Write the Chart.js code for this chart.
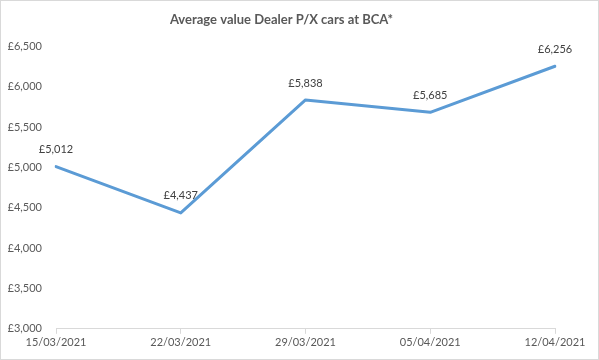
<!DOCTYPE html>
<html><head><meta charset="utf-8">
<script src="https://cdn.jsdelivr.net/npm/chart.js@4"></script>
<style>html,body{margin:0;padding:0;background:#fff}#wrap{width:599px;height:360px;position:relative}</style>
</head><body><div id="wrap"><canvas id="c" width="599" height="360"></canvas></div>
<script>
const categories = ['15/03/2021','22/03/2021','29/03/2021','05/04/2021','12/04/2021'];
const values = [5012, 4437, 5838, 5685, 6256];
const yTicks = [3000, 3500, 4000, 4500, 5000, 5500, 6000, 6500];
const titleText = 'Average value Dealer P/X cars at BCA*';
const FONT = 'Lato, "Open Sans", sans-serif';
const fmt = v => '£' + v.toLocaleString('en-GB');

const borderPlugin = {
  id: 'frame',
  beforeDraw(chart) {
    const ctx = chart.ctx;
    ctx.save();
    ctx.fillStyle = '#fff';
    ctx.fillRect(0,0,chart.width,chart.height);
    ctx.strokeStyle = '#d9d9d9';
    ctx.lineWidth = 1;
    ctx.strokeRect(0.5,0.5,chart.width-1,chart.height-1);
    ctx.restore();
  }
};
const labelPlugin = {
  id: 'dlabels',
  afterDatasetsDraw(chart) {
    const ctx = chart.ctx;
    const meta = chart.getDatasetMeta(0);
    ctx.save();
    ctx.font = '11px ' + FONT;
    ctx.fillStyle = '#404040';
    ctx.textAlign = 'center';
    ctx.textBaseline = 'middle';
    meta.data.forEach((pt, i) => {
      ctx.fillText(fmt(values[i]), pt.x, pt.y - 17);
    });
    ctx.restore();
  }
};

new Chart(document.getElementById('c'), {
  type: 'line',
  data: {
    labels: categories,
    datasets: [{
      data: values,
      borderColor: '#5B9BD5',
      borderWidth: 3,
      pointRadius: 0,
      tension: 0,
      fill: false,
      borderCapStyle: 'round',
      borderJoinStyle: 'round'
    }]
  },
  options: {
    responsive: false,
    animation: false,
    layout: { padding: { left: 8, right: 44, top: 8, bottom: 9 } },
    plugins: {
      legend: { display: false },
      tooltip: { enabled: false },
      title: {
        display: true,
        text: titleText,
        color: '#595959',
        font: { family: FONT, size: 13, weight: 'bold' },
        padding: { top: 4, bottom: 19 }
      }
    },
    scales: {
      x: {
        offset: false,
        border: { display: true, color: '#d9d9d9', width: 1 },
        grid: { display: true, drawOnChartArea: false, drawTicks: true, tickLength: 5, color: '#d9d9d9' },
        ticks: { color: '#595959', font: { family: FONT, size: 11 }, maxRotation: 0, autoSkip: false, padding: 2 }
      },
      y: {
        min: 3000, max: 6500,
        afterBuildTicks(axis) { axis.ticks = yTicks.map(v => ({ value: v })); },
        afterFit(axis) { axis.width = 48; },
        border: { display: false },
        grid: { display: false, drawTicks: false },
        ticks: { color: '#595959', font: { family: FONT, size: 11 }, padding: 14, callback: v => fmt(v) }
      }
    }
  },
  plugins: [borderPlugin, labelPlugin]
});
</script></body></html>
